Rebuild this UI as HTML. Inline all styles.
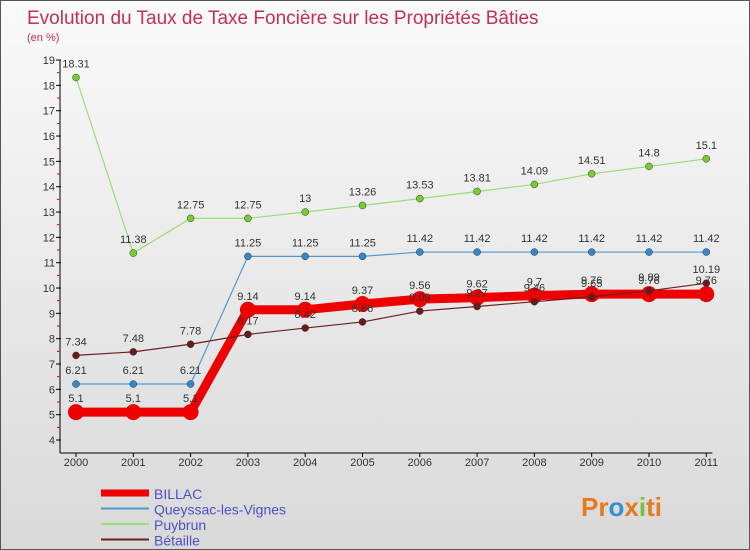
<!DOCTYPE html>
<html><head><meta charset="utf-8"><style>
body{margin:0;}
#wrap{position:relative;width:748px;height:548px;border:1px solid #555;background:linear-gradient(#fafafa,#d9d9d9);font-family:"Liberation Sans",sans-serif;overflow:hidden}
</style></head><body>
<div id="wrap">
<svg id="svg" width="748" height="548" style="position:absolute;left:0;top:0">
<text x="26" y="23" font-size="19" fill="#c0305a">Evolution du Taux de Taxe Foncière sur les Propriétés Bâties</text>
<text x="26" y="40" font-size="11" fill="#c0305a">(en %)</text>
<g id="axes"></g><g id="series"></g><g id="legend"></g>
<text x="580" y="515" font-size="26" font-weight="bold" fill="#e87a1c">Pr<tspan fill="#3a8fd0">o</tspan><tspan fill="#e87a1c">x</tspan><tspan fill="#7cc13a">i</tspan><tspan fill="#e87a1c">ti</tspan></text>
</svg>
</div>
<script>
const years=[2000,2001,2002,2003,2004,2005,2006,2007,2008,2009,2010,2011];
const yTicks=[4,5,6,7,8,9,10,11,12,13,14,15,16,17,18,19];
const billac=[5.1,5.1,5.1,9.14,9.14,9.37,9.56,9.62,9.7,9.76,9.76,9.76];
const queyssac=[6.21,6.21,6.21,11.25,11.25,11.25,11.42,11.42,11.42,11.42,11.42,11.42];
const puybrun=[18.31,11.38,12.75,12.75,13,13.26,13.53,13.81,14.09,14.51,14.8,15.1];
const betaille=[7.34,7.48,7.78,8.17,8.42,8.66,9.09,9.27,9.46,9.65,9.89,10.19];
const NS="http://www.w3.org/2000/svg";
function X(i){return 75+i*57.3;}
function Y(v){return 439-(v-4)*25.33;}
function mk(t,a,p){const e=document.createElementNS(NS,t);for(const k in a)e.setAttribute(k,a[k]);p.appendChild(e);return e;}
const ax=document.getElementById('axes');
let l=mk('line',{x1:59,y1:Y(19),x2:59,y2:452,stroke:'#000'},ax);


l=mk('line',{x1:59,y1:452,x2:X(11)+6,y2:452,stroke:'#000'},ax);


yTicks.forEach(v=>{mk('line',{x1:55,y1:Y(v),x2:60,y2:Y(v),stroke:'#000'},ax);
 if(v<19)mk('line',{x1:56,y1:Y(v+0.5),x2:59,y2:Y(v+0.5),stroke:'#e00'},ax);
 const t=mk('text',{x:54,y:Y(v)+4,'font-size':11,'text-anchor':'end',fill:'#333'},ax);t.textContent=v;
 
 });
years.forEach((y,i)=>{mk('line',{x1:X(i),y1:452,x2:X(i),y2:456,stroke:'#000'},ax);
 const t=mk('text',{x:X(i),y:465,'font-size':11,'text-anchor':'middle',fill:'#333'},ax);t.textContent=y;
 
 });
const sg=document.getElementById('series');
function draw(data,color,w,r,name,ptColor){
 const g=mk('g',{},sg);
 
 
 mk('polyline',{points:data.map((v,i)=>X(i)+','+Y(v)).join(' '),fill:'none',stroke:color,'stroke-width':w},g);
 data.forEach((v,i)=>{const c=mk('circle',{cx:X(i),cy:Y(v),r:r,fill:ptColor,stroke:'#333','stroke-width':r>5?0:0.5},g);
  
  
  const t=mk('text',{x:X(i),y:Y(v)-10,'font-size':11,'text-anchor':'middle',fill:'#333'},g);t.textContent=v;
  
  });
}
draw(puybrun,'#99dd77',1.2,3.5,'puybrun','#77cc33');
draw(queyssac,'#5599cc',1.2,3.5,'queyssac','#3388cc');
draw(billac,'#ee0000',9,8,'billac','#ee0000');
draw(betaille,'#6a2020',1.2,3.5,'betaille','#6a1a1a');
const lg=document.getElementById('legend');
[['BILLAC','#ee0000',7],['Queyssac-les-Vignes','#5599cc',2],['Puybrun','#99dd77',2],['Bétaille','#6a2020',2]].forEach((s,i)=>{
 const y=492+i*15.5;
 const ln=mk('line',{x1:100,y1:y,x2:148,y2:y,stroke:s[1],'stroke-width':s[2]},lg);
 
 
 const t=mk('text',{x:153,y:y+6,'font-size':14,fill:'#5050c8'},lg);t.textContent=s[0];
 
 
});
</script>
</body></html>
